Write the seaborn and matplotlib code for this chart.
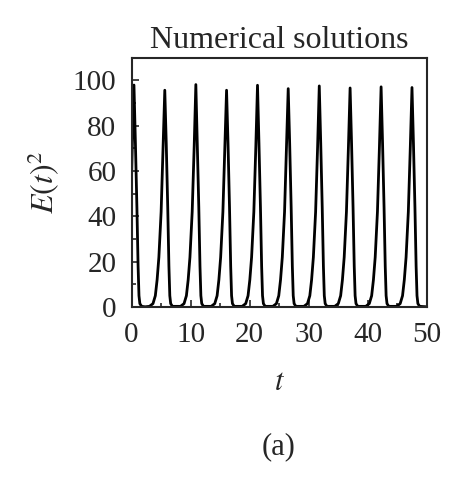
import numpy as np
import pandas as pd
import matplotlib as mpl
import matplotlib.pyplot as plt
import seaborn as sns
from matplotlib.ticker import MultipleLocator

sns.set_style('ticks')
mpl.rcParams['font.family'] = ['Liberation Serif', 'DejaVu Serif']
mpl.rcParams['mathtext.fontset'] = 'stix'

# 读出的曲线点 (t, E(t)^2)，每行一个峰
t = [
    0.0, 0.12, 0.4, 0.65, 0.9, 1.1, 1.25, 1.4, 1.7, 2.3,
    3.02, 3.62, 4.02, 4.32, 4.62, 5.0, 5.34, 5.62, 5.87, 6.12, 6.32, 6.47, 6.62, 6.92,
    8.28, 8.88, 9.28, 9.58, 9.88, 10.26, 10.6, 10.88, 11.13, 11.38, 11.58, 11.73, 11.88, 12.18,
    13.48, 14.08, 14.48, 14.78, 15.08, 15.46, 15.8, 16.08, 16.33, 16.58, 16.78, 16.93, 17.08, 17.38,
    18.72, 19.32, 19.72, 20.02, 20.32, 20.7, 21.04, 21.32, 21.57, 21.82, 22.02, 22.17, 22.32, 22.62,
    23.92, 24.52, 24.92, 25.22, 25.52, 25.9, 26.24, 26.52, 26.77, 27.02, 27.22, 27.37, 27.52, 27.82,
    29.18, 29.78, 30.18, 30.48, 30.78, 31.16, 31.5, 31.78, 32.03, 32.28, 32.48, 32.63, 32.78, 33.08,
    34.4, 35.0, 35.4, 35.7, 36.0, 36.38, 36.72, 37.0, 37.25, 37.5, 37.7, 37.85, 38.0, 38.3,
    39.65, 40.25, 40.65, 40.95, 41.25, 41.63, 41.97, 42.25, 42.5, 42.75, 42.95, 43.1, 43.25, 43.55,
    44.88, 45.48, 45.88, 46.18, 46.48, 46.86, 47.2, 47.48, 47.73, 47.98, 48.18, 48.33, 48.48, 48.78,
    50.0,
]
e2 = [
    58, 71, 98, 72, 44, 18, 5, 1.5, 0.3, 0.1,
    0.3, 1.5, 5, 12, 22, 42, 71, 95.7, 72, 44, 18, 5, 1.5, 0.3,
    0.3, 1.5, 5, 12, 22, 42, 71, 98.2, 72, 44, 18, 5, 1.5, 0.3,
    0.3, 1.5, 5, 12, 22, 42, 71, 95.7, 72, 44, 18, 5, 1.5, 0.3,
    0.3, 1.5, 5, 12, 22, 42, 71, 97.9, 72, 44, 18, 5, 1.5, 0.3,
    0.3, 1.5, 5, 12, 22, 42, 71, 96.4, 72, 44, 18, 5, 1.5, 0.3,
    0.3, 1.5, 5, 12, 22, 42, 71, 97.6, 72, 44, 18, 5, 1.5, 0.3,
    0.3, 1.5, 5, 12, 22, 42, 71, 96.7, 72, 44, 18, 5, 1.5, 0.3,
    0.3, 1.5, 5, 12, 22, 42, 71, 97.2, 72, 44, 18, 5, 1.5, 0.3,
    0.3, 1.5, 5, 12, 22, 42, 71, 96.9, 72, 44, 18, 5, 1.5, 0.3,
    0.1,
]
xticks = [0, 10, 20, 30, 40, 50]
yticks = [0, 20, 40, 60, 80, 100]

df = pd.DataFrame({'t': t, 'E2': e2})

fig = plt.figure(figsize=(4.65, 4.82), dpi=100)
ax = fig.add_axes([0.283, 0.363, 0.635, 0.517])
sns.lineplot(data=df, x='t', y='E2', color='black', lw=2.0, ax=ax)

ax.set_xlim(0, 50)
ax.set_ylim(0, 110)
ax.set_xticks(xticks)
ax.set_yticks(yticks)
ax.xaxis.set_minor_locator(MultipleLocator(5))
ax.yaxis.set_minor_locator(MultipleLocator(10))
ax.tick_params(which='both', direction='in', labelsize=21, width=1.2)
ax.tick_params(which='major', length=5, pad=11)
ax.tick_params(which='minor', length=3)
for s in ax.spines.values():
    s.set_linewidth(1.5)
    s.set_visible(True)

ax.set_title('Numerical solutions', fontsize=23, pad=7)
ax.set_xlabel('$t$', fontsize=22, labelpad=14)
ax.set_ylabel('$E(t)^2$', fontsize=23, labelpad=8)
fig.text(0.598, 0.073, '(a)', fontsize=22, ha='center', va='center')

fig.savefig('out.png', dpi=100)
